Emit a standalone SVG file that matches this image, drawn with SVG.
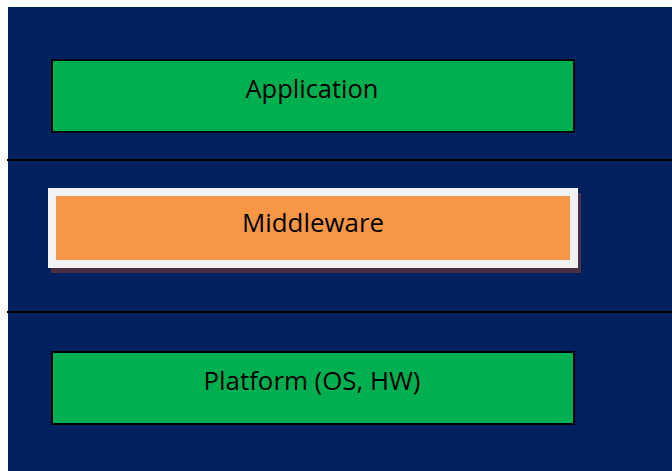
<svg xmlns="http://www.w3.org/2000/svg" width="672" height="471" viewBox="0 0 672 471">
  <style>
    .lbl { font-family: "Open Sans", "Liberation Sans", sans-serif; font-size: 25px; fill: #000000; text-anchor: middle; }
    .green { fill: #00B050; stroke: #000000; stroke-width: 2; }
    .sep { stroke: #000000; stroke-width: 2; fill: none; }
  </style>
  <rect x="0" y="0" width="672" height="471" fill="#FFFFFF"/>
  <rect x="8" y="7" width="664" height="464" fill="#002060"/>
  <g id="separators">
    <line class="sep" x1="7" y1="160" x2="672" y2="160"/>
    <line class="sep" x1="7" y1="312" x2="672" y2="312"/>
  </g>
  <g id="application">
    <rect class="green" x="52" y="60" width="522" height="72"/>
    <text class="lbl" x="312" y="98" textLength="133" lengthAdjust="spacingAndGlyphs">Application</text>
  </g>
  <g id="middleware">
    <rect x="51" y="193" width="530" height="80" fill="#4B3042"/>
    <rect x="48" y="188" width="530" height="80" fill="#F2F2F2"/>
    <rect x="56" y="196" width="514" height="64" fill="#F79646"/>
    <text class="lbl" x="313" y="232" textLength="142" lengthAdjust="spacingAndGlyphs">Middleware</text>
  </g>
  <g id="platform">
    <rect class="green" x="52" y="352" width="522" height="72"/>
    <text class="lbl" x="312" y="390" textLength="217" lengthAdjust="spacingAndGlyphs">Platform (OS, HW)</text>
  </g>
  <g id="connectors"/>
</svg>
